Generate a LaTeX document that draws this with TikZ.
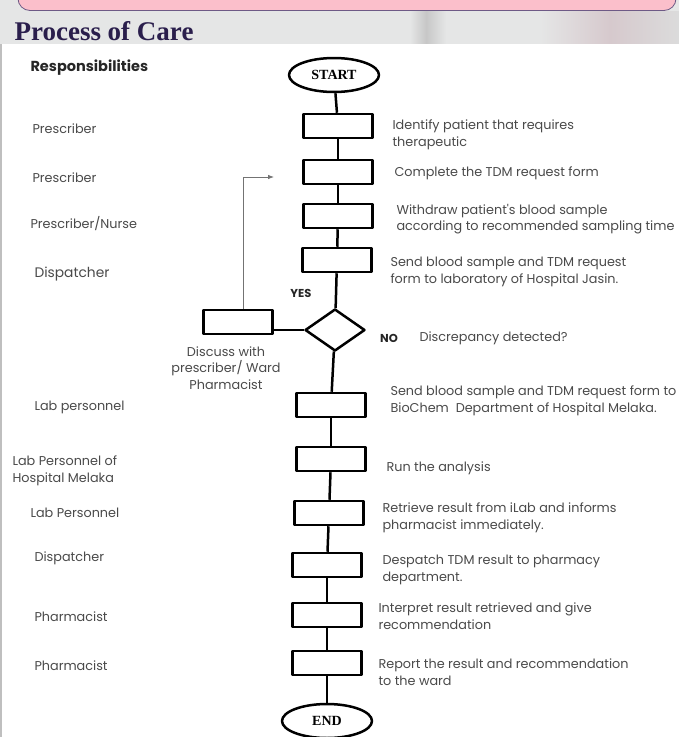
\documentclass[tikz,border=0pt]{standalone}
\usepackage{fontspec}
\setmainfont{Liberation Serif}
\newfontfamily\gothic{Poppins}
\usetikzlibrary{shapes.geometric,arrows.meta}

\definecolor{titleblue}{HTML}{2A1E4C}
\definecolor{bandpink}{HTML}{FBBFCB}
\definecolor{bandline}{HTML}{6E5A86}
\definecolor{bandgray}{HTML}{E5E6E6}
\definecolor{bandblur}{HTML}{D6C9CD}
\definecolor{txtgray}{HTML}{4A4A4A}

\tikzset{
  stepbox/.style={draw,line width=2.5pt,minimum width=69pt,minimum height=24pt,inner sep=0pt},
  terminal/.style={draw,ellipse,line width=2.5pt,minimum width=90pt,minimum height=34pt,inner sep=0pt,
    font=\bfseries\fontsize{14}{14}\selectfont},
  decision/.style={draw,diamond,line width=2.5pt,minimum width=60pt,minimum height=42pt,inner sep=0pt},
  flow/.style={line width=2.5pt},
  feedback/.style={line width=0.8pt,draw=black!55,-{Latex[length=6pt,width=4.5pt]}},
  role/.style={anchor=west,align=left,text=txtgray,font=\gothic\fontsize{12.8}{17}\selectfont},
  task/.style={anchor=west,align=left,text=txtgray,font=\gothic\fontsize{12.8}{16.5}\selectfont},
  answer/.style={text=black!85,font=\gothic\bfseries\fontsize{11.5}{11.5}\selectfont},
}

\begin{document}
\begin{tikzpicture}[x=1pt,y=-1pt,line join=round,>=latex]
      \useasboundingbox (0,0) rectangle (679,737);
      % header bands
      \fill[bandgray] (0,0) rectangle (679,44);
      \shade[left color=bandgray,right color=black!22] (410,11) rectangle (426,44);
      \shade[left color=black!22,right color=bandgray] (426,11) rectangle (446,44);
      \shade[left color=bandgray,right color=bandblur] (540,11) rectangle (610,44);
      \shade[left color=bandblur,right color=black!14] (610,11) rectangle (679,44);
      \filldraw[fill=bandpink,draw=bandline,line width=0.8pt,rounded corners=12pt]
        (18,-30) rectangle (676,10.5);
      \fill[white] (0,44) rectangle (679,737);
      \fill[black!25] (0,44) rectangle (2,737);
      \node[anchor=base west,text=titleblue,font=\bfseries\fontsize{27}{27}\selectfont] (title) at (11,40) {Process of Care};
      \node[anchor=west,text=black!85,font=\gothic\bfseries\fontsize{14.5}{14.5}\selectfont] (resp) at (27,68) {Responsibilities};

      % flow chart
      \node[terminal] (start) at (334,75) {START};
      \node[stepbox]  (s1)    at (338,126) {};
      \node[stepbox]  (s2)    at (338,172) {};
      \node[stepbox]  (s3)    at (338,216) {};
      \node[stepbox]  (s4)    at (337,260) {};
      \node[decision] (check) at (335,330) {};
      \node[stepbox]  (discuss) at (238,322) {};
      \node[stepbox]  (s5)    at (331,405) {};
      \node[stepbox]  (s6)    at (331,459) {};
      \node[stepbox]  (s7)    at (329,513) {};
      \node[stepbox]  (s8)    at (327,565) {};
      \node[stepbox]  (s9)    at (327,615) {};
      \node[stepbox]  (s10)   at (327,663) {};
      \node[terminal] (end)   at (327,721) {END};

      \draw[flow] (start) -- (s1);
      \draw[flow] (s1) -- (s2);
      \draw[flow] (s2) -- (s3);
      \draw[flow] (s3) -- (s4);
      \draw[flow] (s4) -- (check);
      \draw[flow] (check) -- (s5);
      \draw[flow] (s5) -- (s6);
      \draw[flow] (s6) -- (s7);
      \draw[flow] (s7) -- (s8);
      \draw[flow] (s8) -- (s9);
      \draw[flow] (s9) -- (s10);
      \draw[flow] (s10) -- (end);
      \draw[flow] (check.west) -- (check.west -| discuss.east);

      % back to the request form
      \coordinate (back) at (274,177);
      \draw[feedback] ([xshift=5pt]discuss.north) |- (back);

      \node[answer] (yes) at (301,293) {YES};
      \node[answer] (no)  at (389,338) {NO};

      % tasks
      \node[task] (t1)   at (389,135) {Identify patient that requires\\therapeutic};
      \node[task] (t2)   at (391,173) {Complete the TDM request form};
      \node[task] (t3)   at (393,219) {Withdraw patient's blood sample\\according to recommended sampling time};
      \node[task] (t4)   at (387,272) {Send blood sample and TDM request\\form to laboratory of Hospital Jasin.};
      \node[task] (disc) at (416,338) {Discrepancy detected?};
      \node[task] (t5)   at (387,401) {Send blood sample and TDM request form to\\BioChem\ \ Department of Hospital Melaka.};
      \node[task] (t6)   at (383,468) {Run the analysis};
      \node[task] (t7)   at (379,518) {Retrieve result from iLab and informs\\pharmacist immediately.};
      \node[task] (t8)   at (379,570) {Despatch TDM result to pharmacy\\department.};
      \node[task] (t9)   at (375,616) {Interpret result retrieved and give\\recommendation};
      \node[task] (t10)  at (375,672) {Report the result and recommendation\\to the ward};
      \node[task,anchor=center,align=center] (dtxt) at (226,368) {Discuss with\\prescriber/ Ward\\Pharmacist};

      % responsibilities
      \node[role] (r1)  at (29,129) {Prescriber};
      \node[role] (r2)  at (29,178) {Prescriber};
      \node[role] (r3)  at (27,224) {Prescriber/Nurse};
      \node[role,font=\gothic\fontsize{13.8}{13.8}\selectfont] (r4) at (31,274) {Dispatcher};
      \node[role] (r5)  at (31,407) {Lab personnel};
      \node[role] (r6)  at (9,471)  {Lab Personnel of\\Hospital Melaka};
      \node[role] (r7)  at (27,513) {Lab Personnel};
      \node[role] (r8)  at (31,558) {Dispatcher};
      \node[role] (r9)  at (31,617) {Pharmacist};
      \node[role] (r10) at (31,666) {Pharmacist};
    \end{tikzpicture}
\end{document}
